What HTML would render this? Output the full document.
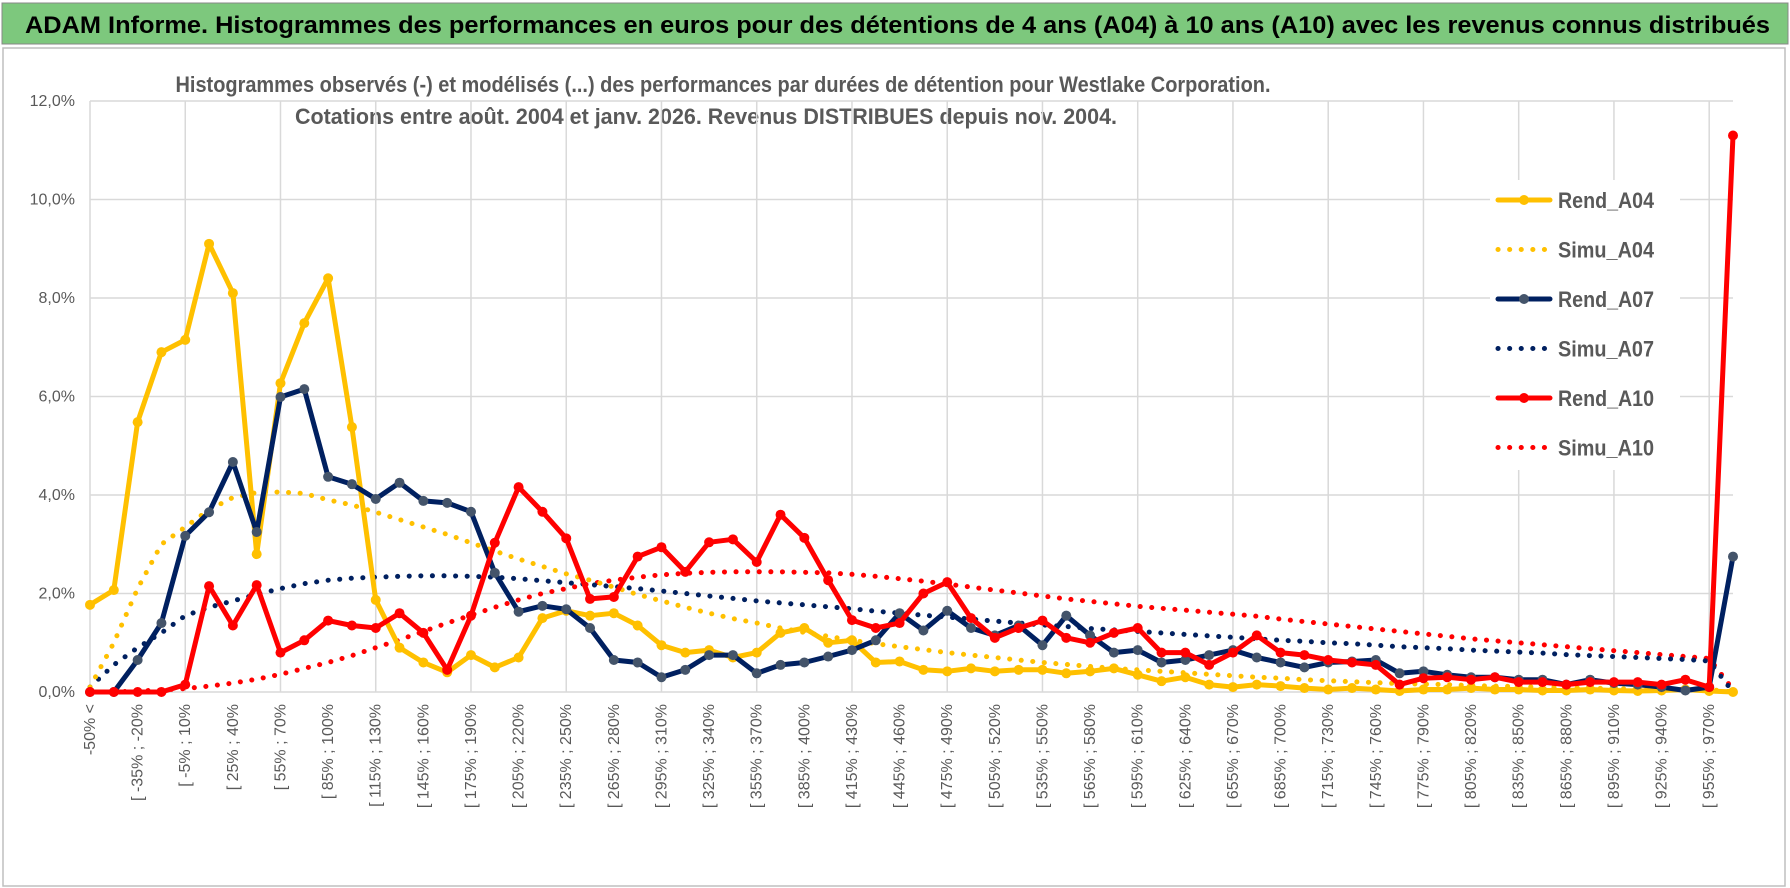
<!DOCTYPE html>
<html><head><meta charset="utf-8">
<style>
html,body{margin:0;padding:0;background:#fff;}
svg{display:block;font-family:"Liberation Sans Narrow","Liberation Sans",sans-serif;}
</style></head>
<body>
<svg id="chart" width="1790" height="888" viewBox="0 0 1790 888" xmlns="http://www.w3.org/2000/svg">
  <rect x="0" y="0" width="1790" height="888" fill="#fff"/>
  <rect x="2" y="3" width="1786" height="41" fill="#7dc87d" stroke="#888" stroke-width="1"/>
  <text x="25" y="33" font-size="24" font-weight="bold" fill="#000" textLength="1745" lengthAdjust="spacingAndGlyphs">ADAM Informe. Histogrammes des performances en euros pour des détentions de 4 ans (A04) à 10 ans (A10) avec les revenus connus distribués</text>
  <rect x="3" y="48" width="1782" height="838" fill="none" stroke="#bfbfbf" stroke-width="1.5"/>
  <text x="723" y="92" font-size="22" font-weight="bold" fill="#595959" text-anchor="middle" textLength="1095" lengthAdjust="spacingAndGlyphs">Histogrammes observés (-) et modélisés (...) des performances par durées de détention pour Westlake Corporation.</text>
  <text x="706" y="124" font-size="22" font-weight="bold" fill="#595959" text-anchor="middle" textLength="822" lengthAdjust="spacingAndGlyphs">Cotations entre août. 2004 et janv. 2026. Revenus DISTRIBUES depuis nov. 2004.</text>
  <g id="grid"></g>
  <g id="ylabels"></g>
  <g id="xlabels"></g>
  <g id="series"></g>
  <g id="legend"></g>
</svg>
<script>
const categoryStarts = [null,-50,-35,-20,-5,10,25,40,55,70,85,100,115,130,145,160,175,190,205,220,235,250,265,280,295,310,325,340,355,370,385,400,415,430,445,460,475,490,505,520,535,550,565,580,595,610,625,640,655,670,685,700,715,730,745,760,775,790,805,820,835,850,865,880,895,910,925,940,955,970];
const yTicks = [0,2,4,6,8,10,12];
const yTickLabels = ["0,0%","2,0%","4,0%","6,0%","8,0%","10,0%","12,0%"];
const rendA04 = [1.77,2.07,5.48,6.9,7.15,9.1,8.1,2.8,6.27,7.49,8.4,5.38,1.87,0.9,0.6,0.4,0.75,0.5,0.7,1.5,1.65,1.55,1.6,1.35,0.95,0.8,0.85,0.7,0.8,1.2,1.3,1.0,1.05,0.6,0.62,0.45,0.42,0.48,0.42,0.45,0.45,0.38,0.42,0.48,0.35,0.22,0.3,0.15,0.1,0.15,0.12,0.08,0.05,0.08,0.05,0.02,0.05,0.05,0.08,0.05,0.05,0.03,0.03,0.05,0.03,0.02,0.03,0.05,0.02,0.0];
const simuA04 = [0.1,1.0,2.1,3.0,3.35,3.7,3.95,4.05,4.06,4.03,3.9,3.8,3.65,3.5,3.35,3.2,3.03,2.86,2.7,2.55,2.4,2.27,2.13,1.98,1.85,1.72,1.6,1.49,1.4,1.3,1.21,1.13,1.05,0.98,0.92,0.86,0.8,0.75,0.7,0.65,0.6,0.56,0.52,0.48,0.45,0.42,0.39,0.36,0.33,0.3,0.28,0.25,0.23,0.21,0.19,0.17,0.16,0.15,0.13,0.12,0.11,0.1,0.09,0.08,0.07,0.06,0.06,0.05,0.05,0.0];
const rendA07 = [0,0,0.65,1.4,3.17,3.65,4.67,3.25,5.99,6.15,4.37,4.22,3.92,4.25,3.88,3.84,3.66,2.42,1.63,1.75,1.68,1.3,0.65,0.6,0.3,0.45,0.75,0.75,0.38,0.55,0.6,0.72,0.85,1.05,1.6,1.25,1.65,1.3,1.15,1.35,0.95,1.55,1.15,0.8,0.85,0.6,0.65,0.75,0.85,0.7,0.6,0.5,0.6,0.62,0.65,0.38,0.42,0.35,0.3,0.3,0.25,0.25,0.15,0.25,0.18,0.15,0.1,0.03,0.1,2.75];
const simuA07 = [0.1,0.55,0.9,1.2,1.55,1.72,1.85,1.98,2.1,2.2,2.27,2.31,2.33,2.35,2.36,2.36,2.35,2.33,2.3,2.26,2.22,2.18,2.14,2.1,2.05,2.0,1.95,1.9,1.85,1.81,1.77,1.73,1.69,1.64,1.6,1.56,1.52,1.48,1.44,1.4,1.36,1.33,1.29,1.26,1.23,1.2,1.17,1.14,1.11,1.08,1.05,1.03,1.0,0.98,0.95,0.92,0.9,0.88,0.85,0.83,0.81,0.79,0.76,0.74,0.72,0.7,0.68,0.66,0.63,0.0];
const rendA10 = [0,0,0,0,0.15,2.15,1.35,2.17,0.8,1.05,1.45,1.35,1.3,1.6,1.2,0.45,1.55,3.03,4.16,3.66,3.12,1.89,1.93,2.75,2.94,2.44,3.04,3.1,2.64,3.6,3.13,2.27,1.46,1.3,1.4,2.0,2.23,1.5,1.1,1.3,1.45,1.1,1.0,1.2,1.3,0.8,0.8,0.55,0.8,1.15,0.8,0.75,0.65,0.6,0.55,0.15,0.28,0.3,0.25,0.3,0.2,0.2,0.15,0.2,0.2,0.2,0.15,0.25,0.1,11.3];
const simuA10 = [0,0,0.02,0.04,0.07,0.12,0.18,0.26,0.36,0.48,0.6,0.74,0.9,1.06,1.23,1.4,1.56,1.72,1.87,2.0,2.1,2.2,2.27,2.33,2.38,2.41,2.43,2.44,2.44,2.44,2.43,2.42,2.39,2.35,2.3,2.25,2.19,2.13,2.07,2.01,1.95,1.89,1.84,1.79,1.74,1.7,1.66,1.62,1.58,1.54,1.48,1.43,1.38,1.33,1.28,1.23,1.18,1.13,1.08,1.04,1.0,0.96,0.92,0.88,0.84,0.8,0.76,0.72,0.68,0.05];

const NS = "http://www.w3.org/2000/svg";
const X0 = 90, X1 = 1733, Y0 = 692, YTOP = 101, YMAX = 12;
const N = categoryStarts.length;
function xAt(i){ return X0 + (X1 - X0) * i / (N - 1); }
function yAt(v){ return Y0 - (Y0 - YTOP) * v / YMAX; }
function mk(tag, attrs, parent){ const e = document.createElementNS(NS, tag); for (const k in attrs) e.setAttribute(k, attrs[k]); parent.appendChild(e); return e; }

const grid = document.getElementById('grid');
yTicks.forEach(function(t){
  const l = mk('line', {x1: X0, x2: X1, y1: yAt(t), y2: yAt(t), stroke: '#d9d9d9', 'stroke-width': 1.5}, grid);
  
  
});
for (let i = 0; i < N; i += 4) {
  const l = mk('line', {x1: xAt(i), x2: xAt(i), y1: YTOP, y2: Y0, stroke: '#d9d9d9', 'stroke-width': 1.5}, grid);
  
  
}
const yl = document.getElementById('ylabels');
yTicks.forEach(function(t, k){
  const tx = mk('text', {x: 75, y: yAt(t) + 5, 'font-size': 16, fill: '#595959', 'text-anchor': 'end'}, yl);
  tx.textContent = yTickLabels[k];
  
  
});
const xl = document.getElementById('xlabels');
categoryStarts.forEach(function(s, i){
  if (i % 2 !== 0) return;
  const label = (s === null) ? '-50% <' : ('[ ' + s + '% ; ' + (s + 15) + '%');
  const x = xAt(i) + 5, y = 704;
  const tx = mk('text', {x: x, y: y, 'font-size': 16, fill: '#595959', 'text-anchor': 'end', transform: 'rotate(-90 ' + x + ' ' + y + ')'}, xl);
  tx.textContent = label;
  
  
});

const seriesDefs = [
  {name: 'simu-a10', data: simuA10, color: '#ff0000', dotted: true},
  {name: 'simu-a07', data: simuA07, color: '#002060', dotted: true},
  {name: 'simu-a04', data: simuA04, color: '#ffc000', dotted: true},
  {name: 'rend-a04', data: rendA04, color: '#ffc000', dotted: false, marker: '#ffc000'},
  {name: 'rend-a07', data: rendA07, color: '#002060', dotted: false, marker: '#44546a'},
  {name: 'rend-a10', data: rendA10, color: '#ff0000', dotted: false, marker: '#ff0000'}
];
const sg = document.getElementById('series');
seriesDefs.forEach(function(sd){
  const g = mk('g', {}, sg);
  
  
  const pts = sd.data.map(function(v, i){ return xAt(i).toFixed(1) + ',' + yAt(v).toFixed(1); }).join(' ');
  const attrs = {points: pts, fill: 'none', stroke: sd.color, 'stroke-linejoin': 'round', 'stroke-linecap': 'round', 'stroke-width': 5};
  if (sd.dotted) { attrs['stroke-dasharray'] = '0.1 11.5'; }
  const pl = mk('polyline', attrs, g);
  
  
  if (!sd.dotted) {
    sd.data.forEach(function(v, i){
      const c = mk('circle', {cx: xAt(i), cy: yAt(v), r: 5, fill: sd.marker}, g);
      
      
    });
  }
});

const legendNames = ['Rend_A04','Simu_A04','Rend_A07','Simu_A07','Rend_A10','Simu_A10'];
const legendColors = ['#ffc000','#ffc000','#002060','#002060','#ff0000','#ff0000'];
const legendMarkers = ['#ffc000',null,'#44546a',null,'#ff0000',null];
const lg = document.getElementById('legend');
mk('rect', {x: 1490, y: 180, width: 190, height: 290, fill: '#fff'}, lg);
legendNames.forEach(function(n, k){
  const y = 200 + k * 49.5;
  const g = mk('g', {}, lg);
  
  
  if (k % 2 === 0) {
    mk('line', {x1: 1498, x2: 1550, y1: y, y2: y, stroke: legendColors[k], 'stroke-width': 5, 'stroke-linecap': 'round'}, g);
    mk('circle', {cx: 1524, cy: y, r: 5, fill: legendMarkers[k]}, g);
  } else {
    mk('line', {x1: 1498, x2: 1550, y1: y, y2: y, stroke: legendColors[k], 'stroke-width': 5, 'stroke-linecap': 'round', 'stroke-dasharray': '0.1 11.5'}, g);
  }
  const tx = mk('text', {x: 1558, y: y + 8, 'font-size': 22, 'font-weight': 'bold', fill: '#595959', textLength: 96, lengthAdjust: 'spacingAndGlyphs'}, g);
  tx.textContent = n;
});
</script>
</body></html>
